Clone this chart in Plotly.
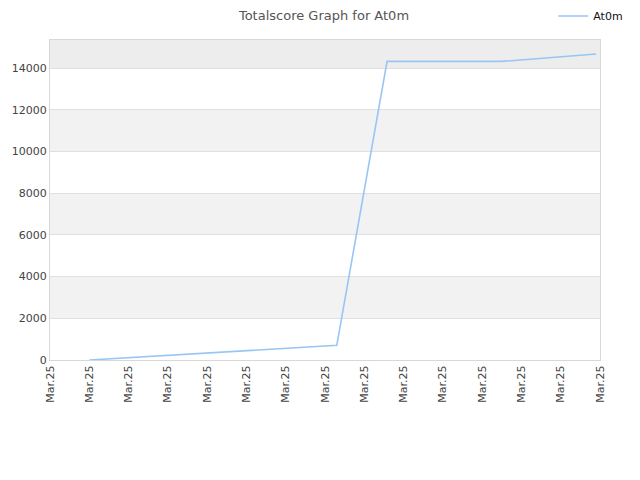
import plotly.graph_objects as go

# points of the score line (x = position on the date axis, y = total score)
pos = [1.0, 7.3, 8.58, 11.5, 13.9]
score = [0, 705, 14316, 14316, 14671]

tick_pos = list(range(15))
tick_text = ['Mar.25'] * 15
band_lo = [2000, 6000, 10000, 14000]
band_hi = [4000, 8000, 12000, 16000]
band_col = ['#f2f2f2', '#f2f2f2', '#f2f2f2', '#ededed']

fig = go.Figure()
fig.add_trace(go.Scatter(x=pos, y=score, mode='lines', name='At0m',
                         line=dict(color='#98c6f3', width=1.6)))

for lo, hi, c in zip(band_lo, band_hi, band_col):
    fig.add_shape(type='rect', xref='paper', yref='y', x0=0, x1=1, y0=lo, y1=hi,
                  fillcolor=c, line_width=0, layer='below')

# the page body adds an 8px margin, so the figure is a bit smaller than the window
fig.update_layout(
    width=632, height=472,
    margin=dict(l=42, r=40, t=32, b=120, autoexpand=False),
    paper_bgcolor='white', plot_bgcolor='white',
    font=dict(family='DejaVu Sans', size=11, color='#444'),
    title=dict(text='Totalscore Graph for At0m', x=0.5, xanchor='center',
               y=0.984, yanchor='middle', font=dict(size=13, color='#555')),
    showlegend=True,
    legend=dict(x=0.915, y=1.075, xanchor='left', yanchor='middle',
                font=dict(size=11, color='#111'), bgcolor='rgba(0,0,0,0)'),
)
fig.update_xaxes(range=[0, 14], tickvals=tick_pos, ticktext=tick_text, tickangle=-90,
                 showgrid=False, showline=True, linecolor='#d8d8d8', mirror=True,
                 ticks='', zeroline=False)
fig.update_yaxes(range=[0, 15343], dtick=2000, showgrid=True, gridcolor='#e0e0e0',
                 showline=True, linecolor='#d8d8d8', mirror=True, zeroline=False,
                 ticks='', tickformat='d')

fig.write_html('out.html')
